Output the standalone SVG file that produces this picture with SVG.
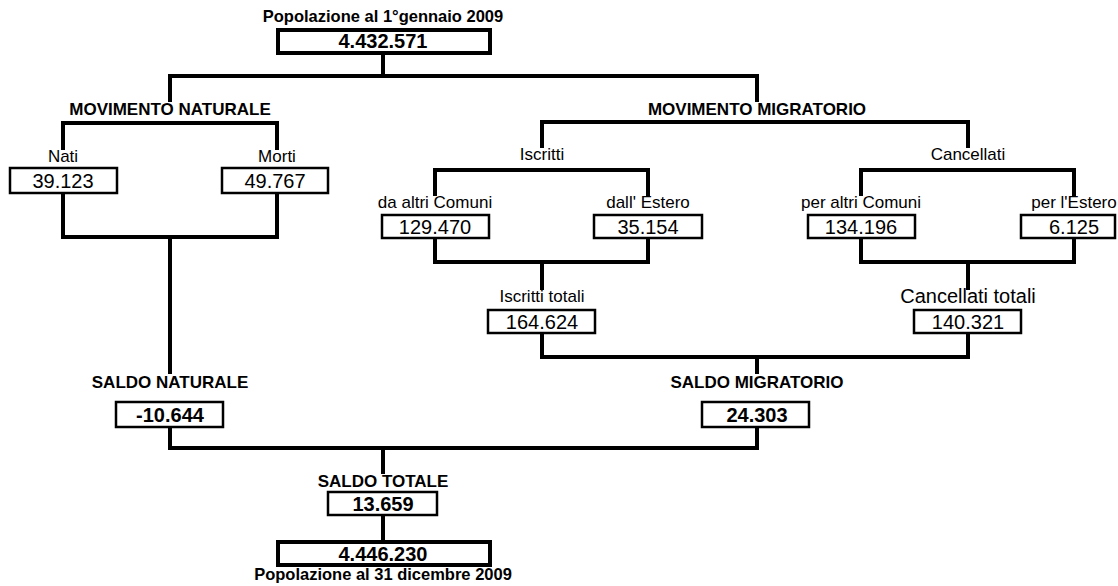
<svg xmlns="http://www.w3.org/2000/svg" width="1118" height="586" viewBox="0 0 1118 586">
<style>
.c{fill:none;stroke:#000;stroke-width:4;stroke-linecap:square}
.b{fill:#fff;stroke:#000;stroke-width:2.5}
.bt{fill:#fff;stroke:#000;stroke-width:4}
text{font-family:"Liberation Sans",Arial,sans-serif;fill:#000;text-anchor:middle}
.l{font-size:17px}
.v{font-size:20px}
.hb{font-size:17px;font-weight:bold}
.vb{font-size:20px;font-weight:bold}
.pb{font-size:16.5px;font-weight:bold}
</style>
<rect width="1118" height="586" fill="#fff"/>
<g id="connectors">
<path class="c" d="M383 53V76M170 76H757M170 76V100M757 76V100"/>
<path class="c" d="M63 148V123H277V148M63 193V237H277V193M170 237V372"/>
<path class="c" d="M542 146V122H968V146M435 194V170H648V194M861 194V170H1074V194"/>
<path class="c" d="M435 238V262H648V238M542 262V288M861 238V262H1074V238M968 262V288"/>
<path class="c" d="M542 333V357H968V333M757 357V372"/>
<path class="c" d="M170 427V448H757V427M383 448V472M383 515V542"/>
</g>
<g id="pop-inizio">
<text class="pb" x="383" y="22">Popolazione al 1°gennaio 2009</text>
<rect class="bt" x="278" y="30" width="212" height="23"/>
<text class="vb" x="383" y="48">4.432.571</text>
</g>
<g id="mov-naturale"><text class="hb" x="170" y="115">MOVIMENTO NATURALE</text></g>
<g id="mov-migratorio"><text class="hb" x="757" y="115">MOVIMENTO MIGRATORIO</text></g>
<g id="nati">
<text class="l" x="63" y="162">Nati</text>
<rect class="b" x="10" y="168" width="107" height="25"/>
<text class="v" x="63" y="188">39.123</text>
</g>
<g id="morti">
<text class="l" x="277" y="162">Morti</text>
<rect class="b" x="222" y="168" width="106" height="25"/>
<text class="v" x="275" y="188">49.767</text>
</g>
<g id="iscritti"><text class="l" x="542" y="160">Iscritti</text></g>
<g id="cancellati"><text class="l" x="968" y="160">Cancellati</text></g>
<g id="da-altri-comuni">
<text class="l" x="435" y="208">da altri Comuni</text>
<rect class="b" x="382" y="215" width="107" height="23"/>
<text class="v" x="435" y="234">129.470</text>
</g>
<g id="dall-estero">
<text class="l" x="648" y="208">dall' Estero</text>
<rect class="b" x="594" y="215" width="108" height="23"/>
<text class="v" x="648" y="234">35.154</text>
</g>
<g id="per-altri-comuni">
<text class="l" x="861" y="208">per altri Comuni</text>
<rect class="b" x="808" y="215" width="107" height="23"/>
<text class="v" x="861" y="234">134.196</text>
</g>
<g id="per-estero">
<text class="l" x="1074" y="208">per l'Estero</text>
<rect class="b" x="1021" y="215" width="94" height="23"/>
<text class="v" x="1074" y="234">6.125</text>
</g>
<g id="iscritti-totali">
<text class="l" x="542" y="302">Iscritti totali</text>
<rect class="b" x="488" y="310" width="107" height="23"/>
<text class="v" x="542" y="329">164.624</text>
</g>
<g id="cancellati-totali">
<text class="v" x="968" y="303">Cancellati totali</text>
<rect class="b" x="914" y="310" width="107" height="23"/>
<text class="v" x="968" y="329">140.321</text>
</g>
<g id="saldo-naturale">
<text class="hb" x="170" y="388">SALDO NATURALE</text>
<rect class="b" x="116" y="402" width="107" height="25"/>
<text class="vb" x="170" y="422">-10.644</text>
</g>
<g id="saldo-migratorio">
<text class="hb" x="757" y="388">SALDO MIGRATORIO</text>
<rect class="b" x="702" y="402" width="107" height="25"/>
<text class="vb" x="757" y="422">24.303</text>
</g>
<g id="saldo-totale">
<text class="hb" x="383" y="487">SALDO TOTALE</text>
<rect class="b" x="328" y="492" width="109" height="23"/>
<text class="vb" x="383" y="511">13.659</text>
</g>
<g id="pop-fine">
<rect class="bt" x="278" y="542" width="212" height="23"/>
<text class="vb" x="383" y="561">4.446.230</text>
<text class="pb" x="383" y="580">Popolazione al 31 dicembre 2009</text>
</g>
</svg>
